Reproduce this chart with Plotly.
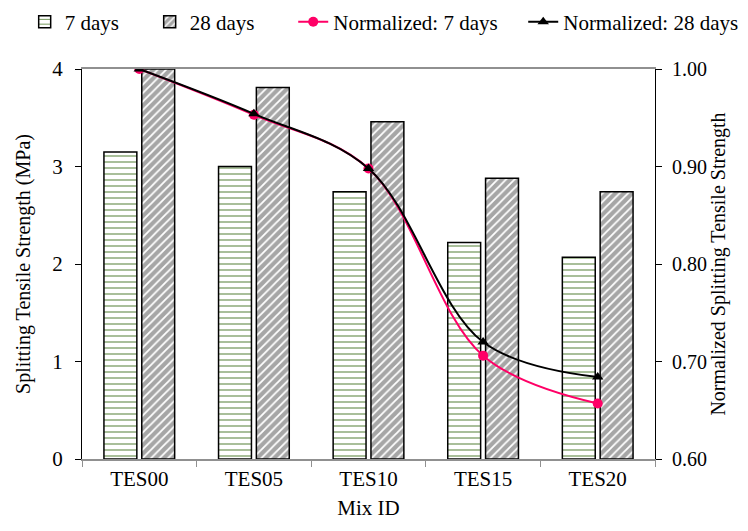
import plotly.graph_objects as go

categories = ["TES00", "TES05", "TES10", "TES15", "TES20"]
days7 = [3.15, 3.00, 2.74, 2.22, 2.07]
days28 = [4.00, 3.81, 3.46, 2.88, 2.74]
norm7 = [1.00, 0.953, 0.898, 0.706, 0.657]
norm28 = [1.00, 0.954, 0.898, 0.720, 0.684]

FONT = "Liberation Serif, Times New Roman, serif"

fig = go.Figure()
fig.add_trace(go.Bar(
    x=categories, y=days7, name="7 days", legend="legend",
    marker=dict(color="white", line=dict(color="black", width=1.5),
                pattern=dict(shape="-", fgcolor="#6f9455", bgcolor="white",
                             size=6, solidity=0.2, fillmode="replace")),
))
fig.add_trace(go.Bar(
    x=categories, y=days28, name="28 days", legend="legend",
    marker=dict(color="#a6a6a6", line=dict(color="black", width=1.5),
                pattern=dict(shape="/", fgcolor="white", bgcolor="#a6a6a6",
                             size=6, solidity=0.3, fillmode="replace")),
))
fig.add_trace(go.Scatter(
    x=categories, y=norm7, name="Normalized: 7 days", yaxis="y2", legend="legend2",
    mode="lines+markers", line=dict(color="#ff0066", width=2, shape="spline"),
    marker=dict(symbol="circle", size=10, color="#ff0066"),
))
fig.add_trace(go.Scatter(
    x=categories, y=norm28, name="Normalized: 28 days", yaxis="y2", legend="legend2",
    mode="lines+markers", line=dict(color="black", width=2, shape="spline"),
    marker=dict(symbol="triangle-up", size=10, color="black"),
))

legend_common = dict(orientation="h", xref="container", yref="container",
                     xanchor="left", y=0.997, yanchor="top",
                     font=dict(family=FONT, size=21), itemwidth=30,
                     tracegroupgap=0, traceorder="normal",
                     entrywidthmode="pixels", bgcolor="rgba(0,0,0,0)")

fig.update_layout(
    width=748, height=531,
    margin=dict(l=82, r=93, t=69, b=72),
    paper_bgcolor="white", plot_bgcolor="white",
    font=dict(family=FONT, size=20, color="black"),
    barmode="group", bargap=0.34, bargroupgap=0.13,
    showlegend=True,
    legend=dict(legend_common, x=0.033, entrywidth=80),
    legend2=dict(legend_common, x=0.392, entrywidth=185),
    xaxis=dict(
        title=dict(text="Mix ID", font=dict(size=21), standoff=10),
        showline=True, linecolor="#909090", linewidth=1.5, mirror=True,
        ticks="outside", tickson="boundaries", ticklen=6, tickcolor="#909090",
        showgrid=False, tickfont=dict(size=21),
    ),
    yaxis=dict(
        title=dict(text="Splitting Tensile Strength (MPa)", font=dict(size=20), standoff=16),
        range=[0, 4], dtick=1, showline=True, linecolor="black", linewidth=1.2,
        ticks="outside", ticklen=6, tickcolor="black", showgrid=False,
        zeroline=False, tickfont=dict(size=21), ticklabelstandoff=8,
    ),
    yaxis2=dict(
        title=dict(text="Normalized Splitting Tensile Strength", font=dict(size=20), standoff=4),
        range=[0.6, 1.0], dtick=0.1, tickformat=".2f", overlaying="y", side="right",
        showline=True, linecolor="black", linewidth=1.2,
        ticks="outside", ticklen=6, tickcolor="black", showgrid=False,
        zeroline=False, tickfont=dict(size=20), ticklabelstandoff=6,
    ),
)

fig.write_html("out.html")
